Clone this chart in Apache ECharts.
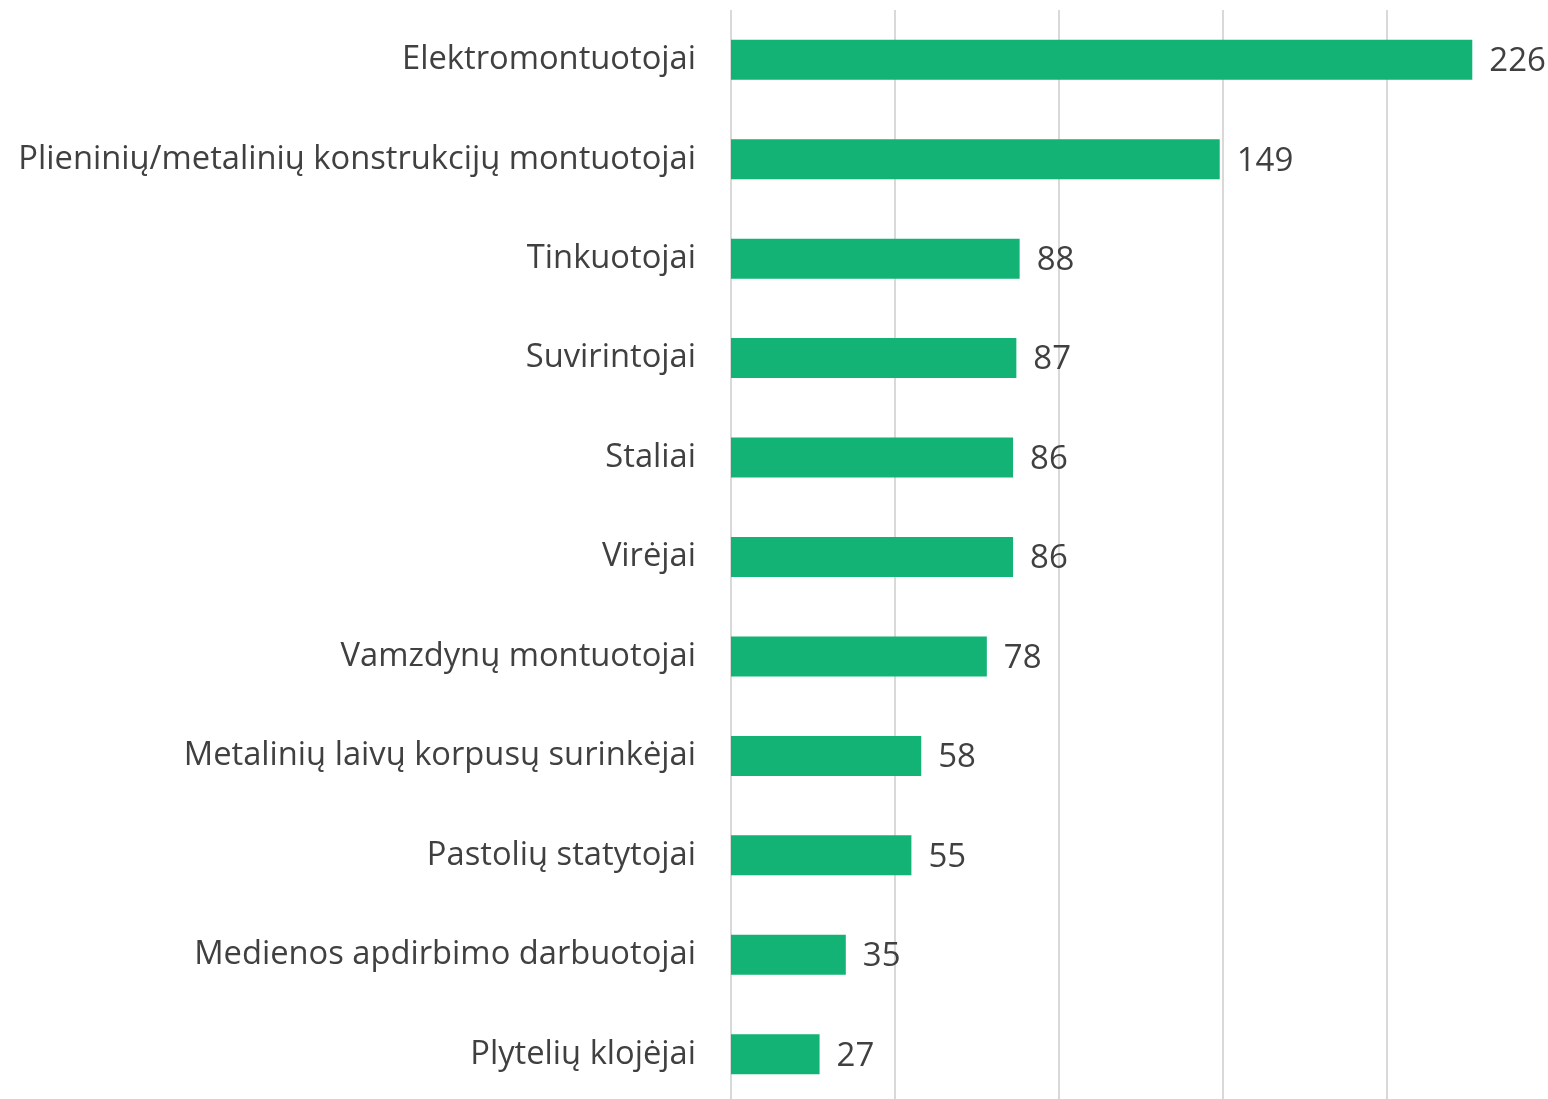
<!DOCTYPE html>
<html>
<head>
<meta charset="utf-8">
<script src="https://cdn.jsdelivr.net/npm/echarts@6/dist/echarts.min.js"></script>
<style>html,body{margin:0;padding:0;background:#fff}#c{width:1548px;height:1099px}</style>
</head>
<body>
<div id="c"></div>
<script>
const categories = [
  "Elektromontuotojai",
  "Plieninių/metalinių konstrukcijų montuotojai",
  "Tinkuotojai",
  "Suvirintojai",
  "Staliai",
  "Virėjai",
  "Vamzdynų montuotojai",
  "Metalinių laivų korpusų surinkėjai",
  "Pastolių statytojai",
  "Medienos apdirbimo darbuotojai",
  "Plytelių klojėjai"
];
const values = [226, 149, 88, 87, 86, 86, 78, 58, 55, 35, 27];

const chart = echarts.init(document.getElementById('c'), null, {renderer: 'canvas'});
const font = '"Open Sans", "Noto Sans", sans-serif';
chart.setOption({
  animation: false,
  grid: {left: 731, top: 10, width: 820, height: 1094, containLabel: false, outerBoundsMode: 'none'},
  xAxis: {
    type: 'value', min: 0, max: 250, interval: 50,
    axisLine: {show: false}, axisTick: {show: false}, axisLabel: {show: false},
    splitLine: {show: true, lineStyle: {color: '#d9d9d9', width: 2}}
  },
  yAxis: {
    type: 'category', data: categories, inverse: true,
    axisLine: {show: false}, axisTick: {show: false},
    axisLabel: {color: '#404040', fontSize: 32.7, fontFamily: font, margin: 35}
  },
  series: [{
    type: 'bar', data: values, barWidth: 40,
    itemStyle: {color: '#12b374'},
    label: {show: true, position: 'right', distance: 17, color: '#404040', fontSize: 33, fontFamily: font, offset: [0, 2]}
  }]
});
</script>
</body>
</html>
